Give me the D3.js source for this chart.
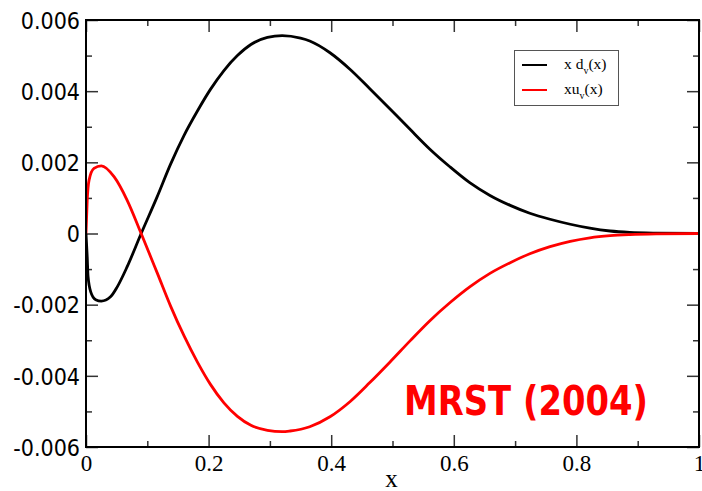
<!DOCTYPE html>
<html>
<head>
<meta charset="utf-8">
<script src="https://cdn.jsdelivr.net/npm/d3@7"></script>
<style>
  html, body { margin: 0; padding: 0; background: #fff; }
  svg { display: block; }
</style>
</head>
<body>
<svg id="chart" width="702" height="491"></svg>
<script>
// ---- data ----
const dX = [0, 0.002, 0.0033, 0.0077, 0.0158, 0.025, 0.040, 0.051, 0.067, 0.090, 0.116, 0.138, 0.160, 0.182, 0.203, 0.225, 0.247, 0.269, 0.296, 0.320, 0.350, 0.365, 0.398, 0.431, 0.463, 0.496, 0.529, 0.561, 0.594, 0.626, 0.659, 0.692, 0.724, 0.757, 0.790, 0.822, 0.855, 0.887, 0.93, 1.0];
const dV = [0, -0.00066, -0.0012, -0.00164, -0.00186, -0.0019, -0.00178, -0.0015, -0.00094, 0, 0.00103, 0.00195, 0.00276, 0.00345, 0.00405, 0.00458, 0.00500, 0.00531, 0.00551, 0.00556, 0.00549, 0.00541, 0.00508, 0.00461, 0.00407, 0.00350, 0.00292, 0.00237, 0.00187, 0.00143, 0.00107, 0.00079, 0.00057, 0.00040, 0.00026, 0.00015, 0.00007, 0.00003, 0.00001, 0];
const uX = [0, 0.002, 0.005, 0.013, 0.025, 0.046, 0.067, 0.090, 0.116, 0.138, 0.160, 0.182, 0.203, 0.225, 0.247, 0.269, 0.296, 0.320, 0.333, 0.365, 0.398, 0.431, 0.463, 0.496, 0.529, 0.561, 0.594, 0.626, 0.659, 0.692, 0.724, 0.757, 0.790, 0.822, 0.855, 0.887, 0.93, 1.0];
const uV = [0, 0.00094, 0.0015, 0.00183, 0.0019, 0.00159, 0.00094, 0, -0.00110, -0.00204, -0.00288, -0.00362, -0.00424, -0.00476, -0.00514, -0.00539, -0.00553, -0.00557, -0.00555, -0.00543, -0.00515, -0.00472, -0.00419, -0.00361, -0.00301, -0.00245, -0.00194, -0.00150, -0.00112, -0.00082, -0.00057, -0.00037, -0.00022, -0.00012, -0.00006, -0.00003, -0.00001, 0];

const xMajor = [0, 0.2, 0.4, 0.6, 0.8, 1];
const xMajorLabels = ["0", "0.2", "0.4", "0.6", "0.8", "1"];
const xMinor = [0.1, 0.3, 0.5, 0.7, 0.9];
const yMajor = [-0.006, -0.004, -0.002, 0, 0.002, 0.004, 0.006];
const yMajorLabels = ["-0.006", "-0.004", "-0.002", "0", "0.002", "0.004", "0.006"];
const yMinor = [-0.005, -0.003, -0.001, 0.001, 0.003, 0.005];

const seriesNames = ["x d", "xu"];
const seriesColors = ["#000000", "#ff0000"];
const xTitle = "x";
const stamp = "MRST (2004)";

// ---- layout ----
const L = 86, R = 699, T = 20, B = 447;
const svg = d3.select("#chart");

const x = d3.scaleLinear().domain([0, 1]).range([L, R]);
const y = d3.scaleLinear().domain([-0.006, 0.006]).range([B, T]);

const tickColor = "#333";

function styleAxis(g) {
  g.select(".domain").remove();
  g.selectAll(".tick line").attr("stroke", tickColor).attr("stroke-width", 1.5);
}

// left axis (labels + inward ticks)
svg.append("g").attr("transform", `translate(${L},0)`)
  .call(d3.axisLeft(y).tickValues(yMajor).tickSize(-12).tickPadding(6)
        .tickFormat((d, i) => yMajorLabels[i]))
  .call(styleAxis)
  .call(g => g.selectAll("text")
      .attr("font-family", "'DejaVu Sans Condensed', 'DejaVu Sans', sans-serif")
      .attr("font-size", 23).attr("fill", "#000").attr("dy", "0.36em"));
svg.append("g").attr("transform", `translate(${L},0)`)
  .call(d3.axisLeft(y).tickValues(yMinor).tickSize(-6).tickFormat(""))
  .call(styleAxis);
// right axis
svg.append("g").attr("transform", `translate(${R},0)`)
  .call(d3.axisRight(y).tickValues(yMajor).tickSize(-12).tickFormat(""))
  .call(styleAxis);
svg.append("g").attr("transform", `translate(${R},0)`)
  .call(d3.axisRight(y).tickValues(yMinor).tickSize(-6).tickFormat(""))
  .call(styleAxis);
// bottom axis
svg.append("g").attr("transform", `translate(0,${B})`)
  .call(d3.axisBottom(x).tickValues(xMajor).tickSize(-12).tickPadding(8)
        .tickFormat((d, i) => xMajorLabels[i]))
  .call(styleAxis)
  .call(g => g.selectAll("text")
      .attr("font-family", "'Liberation Serif', 'Times New Roman', serif")
      .attr("font-size", 23).attr("fill", "#000").attr("dy", "0.71em"));
svg.append("g").attr("transform", `translate(0,${B})`)
  .call(d3.axisBottom(x).tickValues(xMinor).tickSize(-6).tickFormat(""))
  .call(styleAxis);
// top axis
svg.append("g").attr("transform", `translate(0,${T})`)
  .call(d3.axisTop(x).tickValues(xMajor).tickSize(-12).tickFormat(""))
  .call(styleAxis);
svg.append("g").attr("transform", `translate(0,${T})`)
  .call(d3.axisTop(x).tickValues(xMinor).tickSize(-6).tickFormat(""))
  .call(styleAxis);

// clip
svg.append("clipPath").attr("id", "clip")
  .append("rect").attr("x", L).attr("y", T).attr("width", R - L).attr("height", B - T);

const line = d3.line().x(d => x(d[0])).y(d => y(d[1])).curve(d3.curveMonotoneX);
const series = [
  { pts: dX.map((v, i) => [v, dV[i]]), color: seriesColors[0] },
  { pts: uX.map((v, i) => [v, uV[i]]), color: seriesColors[1] }
];
svg.append("g").attr("clip-path", "url(#clip)")
  .selectAll("path").data(series).join("path")
  .attr("d", d => line(d.pts))
  .attr("fill", "none")
  .attr("stroke", d => d.color)
  .attr("stroke-width", 2.8)
  .attr("stroke-linejoin", "round");

// frame
svg.append("rect").attr("x", L).attr("y", T).attr("width", R - L).attr("height", B - T)
  .attr("fill", "none").attr("stroke", "#000").attr("stroke-width", 2);

// x title
svg.append("text").attr("x", (L + R) / 2 - 1).attr("y", 487)
  .attr("text-anchor", "middle")
  .attr("font-family", "'Liberation Serif', 'Times New Roman', serif")
  .attr("font-size", 25).attr("fill", "#000").text(xTitle);

// legend
const lg = svg.append("g");
lg.append("rect").attr("x", 514.5).attr("y", 50.5).attr("width", 104).attr("height", 55)
  .attr("fill", "#fff").attr("stroke", "#555").attr("stroke-width", 1);
seriesNames.forEach((name, i) => {
  const yy = 65 + i * 25;
  lg.append("line").attr("x1", 522).attr("x2", 547).attr("y1", yy).attr("y2", yy)
    .attr("stroke", seriesColors[i]).attr("stroke-width", 2);
  const t = lg.append("text").attr("x", 564).attr("y", yy + 3.5)
    .attr("font-family", "'Liberation Serif', 'Times New Roman', serif")
    .attr("font-size", 15.5).attr("fill", "#000");
  t.append("tspan").text(name);
  t.append("tspan").attr("font-size", 10).attr("dy", 5).text("v");
  t.append("tspan").attr("dy", -5).text("(x)");
});

// stamp
svg.append("text").attr("x", 404).attr("y", 415)
  .attr("font-family", "'DejaVu Sans Condensed', 'DejaVu Sans', sans-serif")
  .attr("font-weight", "bold").attr("font-size", 41)
  .attr("textLength", 244).attr("lengthAdjust", "spacingAndGlyphs")
  .attr("fill", "#ff0000").text(stamp);
</script>
</body>
</html>
